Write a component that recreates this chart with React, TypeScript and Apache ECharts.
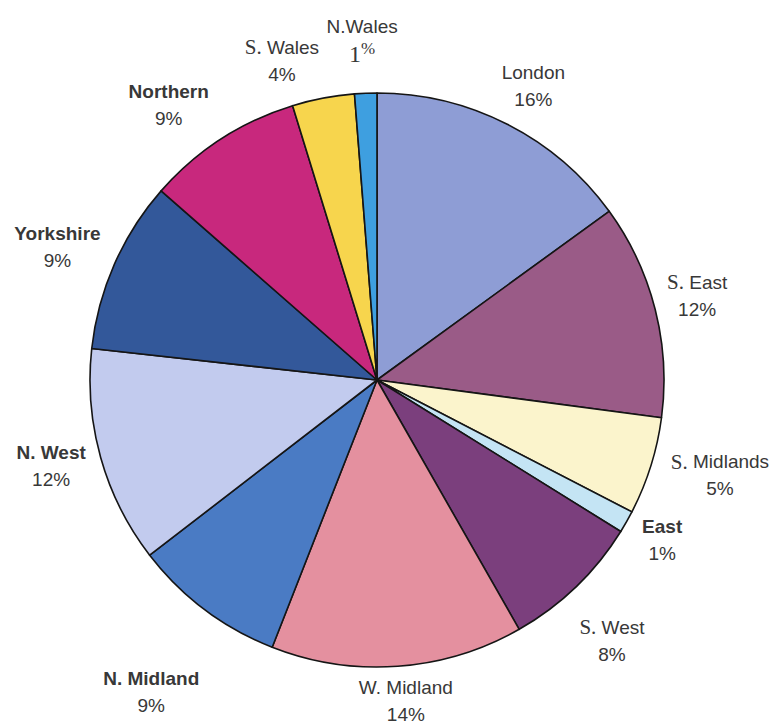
import React, { useEffect, useRef } from "react";
import * as echarts from "echarts";

// Regions, clockwise from 12 o'clock
const NAMES = ["London", "S. East", "S. Midlands", "East", "S. West", "W. Midland", "N. Midland", "N. West", "Yorkshire", "Northern", "S. Wales", "N.Wales"];
// slice sizes (percent of the whole)
const SHARES = [15.0, 12.1, 5.5, 1.25, 7.9, 14.2, 8.6, 12.2, 9.7, 8.8, 3.5, 1.25];
// percentages printed in the labels
const LABEL_PCT = [16, 12, 5, 1, 8, 14, 9, 12, 9, 9, 4, 1];

const COLORS = ["#8e9dd5", "#9a5b87", "#fbf4cc", "#c4e4f4", "#7b3f7d", "#e4909f", "#4a7bc4", "#c2cbee", "#33589a", "#c8287d", "#f7d54d", "#3e9fe0"];
const BOLD = [false, false, false, true, false, false, true, true, true, true, false, false];
// label placement: [angle tweak (deg), distance from centre (px)]
const LABEL_PLACE: [number, number][] = [
  [1, 333], [-0.5, 331], [-1.9, 356], [-0.3, 327], [1.9, 351], [-1, 322],
  [-1, 385], [0.9, 337], [-1.2, 346], [-4.2, 345], [-5.8, 333], [-0.25, 340],
];

const CX = 377;
const CY = 380;
const R = 287;

export default function App() {
  const ref = useRef<HTMLDivElement>(null);
  useEffect(() => {
    document.body.style.margin = "0";
    const chart = echarts.init(ref.current!, null, { renderer: "svg" });
    const total = SHARES.reduce((a, b) => a + b, 0);
    const cum: number[] = [];
    let acc = 0;
    SHARES.forEach((v) => { cum.push(acc); acc += v; });

    const fmt = (i: number) => {
      const name = NAMES[i];
      const nStyle = BOLD[i] ? "b" : "n";
      let first: string;
      if (name.startsWith("S. ")) first = `{serif|S.}{${nStyle}|${name.slice(2)}}`;
      else first = `{${nStyle}|${name}}`;
      let second: string;
      if (i === 11) second = `{one|${LABEL_PCT[i]}}{sup|%}`;
      else second = `{p|${LABEL_PCT[i]}%}`;
      return first + "\n" + second;
    };

    const textBase = { fontFamily: "Liberation Sans, Arial, sans-serif", fontSize: 19, color: "#383838", lineHeight: 27 };

    chart.setOption({
      animation: false,
      backgroundColor: "#ffffff",
      series: [
        {
          type: "pie",
          center: [CX, CY],
          radius: R,
          startAngle: 90,
          clockwise: true,
          avoidLabelOverlap: false,
          silent: true,
          data: NAMES.map((n, i) => ({ name: n, value: SHARES[i], itemStyle: { color: COLORS[i] } })),
          itemStyle: { borderColor: "#151515", borderWidth: 1.6 },
          labelLine: { show: false },
          label: {
            show: true,
            position: "outside",
            formatter: (p: any) => fmt(p.dataIndex),
            align: "center",
            rich: {
              n: { ...textBase },
              b: { ...textBase, fontWeight: "bold" },
              p: { ...textBase },
              serif: { ...textBase, fontFamily: "Liberation Serif, Times New Roman, serif", fontSize: 21 },
              one: { ...textBase, fontFamily: "Liberation Serif, Times New Roman, serif", fontSize: 24 },
              sup: { ...textBase, fontFamily: "Liberation Serif, Times New Roman, serif", fontSize: 17, verticalAlign: "top", lineHeight: 20 },
            },
          },
          labelLayout: (params: any) => {
            const i = params.dataIndex;
            const mid = ((cum[i] + SHARES[i] / 2) / total) * 360 + LABEL_PLACE[i][0];
            const d = LABEL_PLACE[i][1];
            const rad = (mid * Math.PI) / 180;
            return {
              x: CX + d * Math.sin(rad),
              y: CY - d * Math.cos(rad),
              align: "center",
              verticalAlign: "middle",
            };
          },
        },
      ],
    });
    return () => chart.dispose();
  }, []);
  return <div ref={ref} style={{ width: 777, height: 726 }} />;
}
